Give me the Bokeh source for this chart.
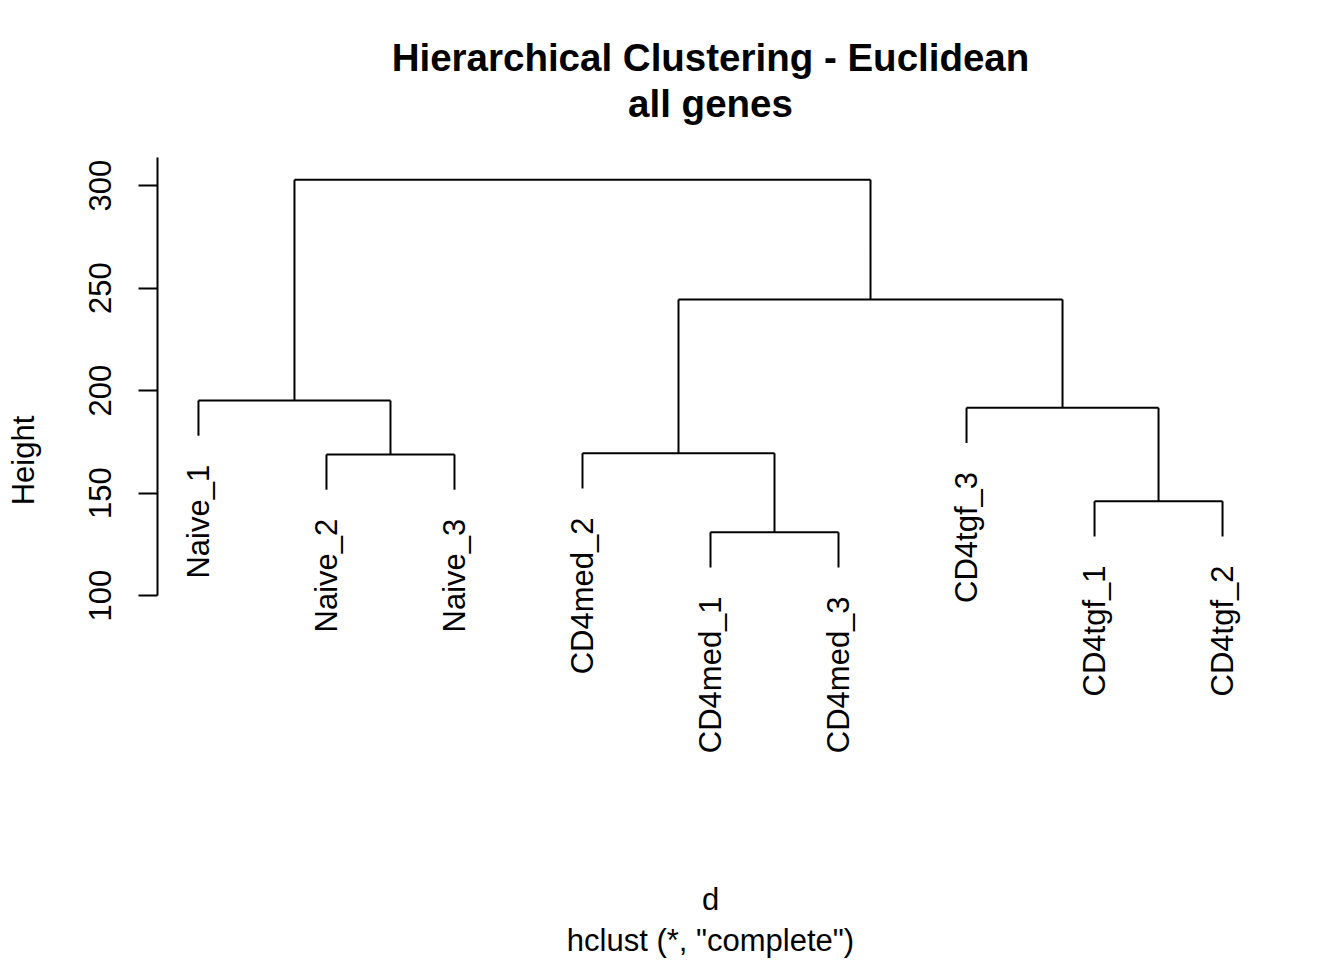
import math
from bokeh.plotting import figure
from bokeh.models import Range1d, FixedTicker, Title, ColumnDataSource, LinearAxis
from bokeh.core.properties import value
from bokeh.embed import file_html
from bokeh.resources import INLINE

# ---- data ----
leaf_labels = ["Naive_1", "Naive_2", "Naive_3", "CD4med_2", "CD4med_1",
               "CD4med_3", "CD4tgf_3", "CD4tgf_1", "CD4tgf_2"]
# R-style merge table: strings = leaves, ints = earlier merge step (1-based)
merge_a = ["Naive_2", "CD4med_1", "CD4tgf_1", "CD4med_2", "CD4tgf_3", "Naive_1", 4, 6]
merge_b = ["Naive_3", "CD4med_3", "CD4tgf_2", 2, 3, 1, 5, 7]
merge_height = [168.8, 130.9, 146.0, 169.4, 191.6, 195.1, 244.4, 302.8]
y_ticks = [100, 150, 200, 250, 300]

FONT = "Liberation Sans"
hang = 0.1 * (max(merge_height) - min(merge_height))

leaf_x = {name: i + 1 for i, name in enumerate(leaf_labels)}
node_x, node_h = {}, {}
x0, y0, x1, y1 = [], [], [], []
leaf_end = {}
for k, (a, b, h) in enumerate(zip(merge_a, merge_b, merge_height), start=1):
    xs = []
    for c in (a, b):
        if isinstance(c, str):
            cx, cy = leaf_x[c], h - hang
            leaf_end[c] = cy
        else:
            cx, cy = node_x[c], node_h[c]
        xs.append(cx)
        x0.append(cx); y0.append(cy); x1.append(cx); y1.append(h)
    x0.append(xs[0]); y0.append(h); x1.append(xs[1]); y1.append(h)
    node_x[k] = (xs[0] + xs[1]) / 2
    node_h[k] = h

seg = ColumnDataSource(dict(x0=x0, y0=y0, x1=x1, y1=y1))
lab = ColumnDataSource(dict(x=[leaf_x[n] for n in leaf_labels],
                            y=[leaf_end[n] for n in leaf_labels],
                            text=leaf_labels))

p = figure(width=1344, height=960, output_backend="svg", toolbar_location=None,
           title=None,
           x_range=Range1d(0.68, 9.32), y_range=Range1d(18.05, 313.66),
           min_border_left=157, min_border_right=81,
           min_border_top=157, min_border_bottom=197)
p.outline_line_color = None
p.grid.visible = False
p.background_fill_color = "white"
p.border_fill_color = "white"

p.segment("x0", "y0", "x1", "y1", source=seg, line_color="black", line_width=2)
p.text("x", "y", text="text", source=lab, angle=math.pi / 2,
       text_align="right", text_baseline="middle", y_offset=29,
       text_font=value(FONT), text_font_size="31px", text_color="black")

# y axis
ya = p.yaxis[0]
ya.ticker = FixedTicker(ticks=y_ticks)
ya.bounds = (100, 313.66)
ya.axis_line_width = 2
ya.major_tick_line_width = 2
ya.major_tick_out = 19
ya.major_tick_in = 0
ya.minor_tick_out = 0
ya.minor_tick_in = 0
ya.major_label_orientation = "vertical"
ya.major_label_standoff = 27
ya.major_label_text_font = FONT
ya.major_label_text_font_size = "31px"
ya.major_label_text_color = "black"
ya.axis_label = "Height"
ya.axis_label_text_font = FONT
ya.axis_label_text_font_size = "31px"
ya.axis_label_text_font_style = "normal"
ya.axis_label_text_color = "black"
ya.axis_label_standoff = 46


def label_only_axis(ax, text, size, style, standoff):
    ax.ticker = FixedTicker(ticks=[])
    ax.axis_line_color = None
    ax.major_tick_out = 0
    ax.major_tick_in = 0
    ax.minor_tick_out = 0
    ax.minor_tick_in = 0
    ax.major_label_standoff = 0
    ax.axis_label = text
    ax.axis_label_text_font = FONT
    ax.axis_label_text_font_size = size
    ax.axis_label_text_font_style = style
    ax.axis_label_text_color = "black"
    ax.axis_label_standoff = standoff


# x axis: only the label "d"
label_only_axis(p.xaxis[0], "d", "31px", "normal", 118)
p.add_layout(Title(text='hclust (*, "complete")', align="center",
                   text_font=FONT, text_font_size="31px", standoff=2,
                   text_font_style="normal", text_color="black"), "below")

# second title line as a label-only axis above the frame, main line as a Title
top_ax = LinearAxis()
label_only_axis(top_ax, "all genes", "38.5px", "bold", 33)
p.add_layout(top_ax, "above")
p.add_layout(Title(text="Hierarchical Clustering - Euclidean", align="center",
                   text_font=FONT, text_font_size="38.5px", text_font_style="bold",
                   text_color="black", standoff=0), "above")

open("out.html", "w").write(file_html(p, INLINE))
